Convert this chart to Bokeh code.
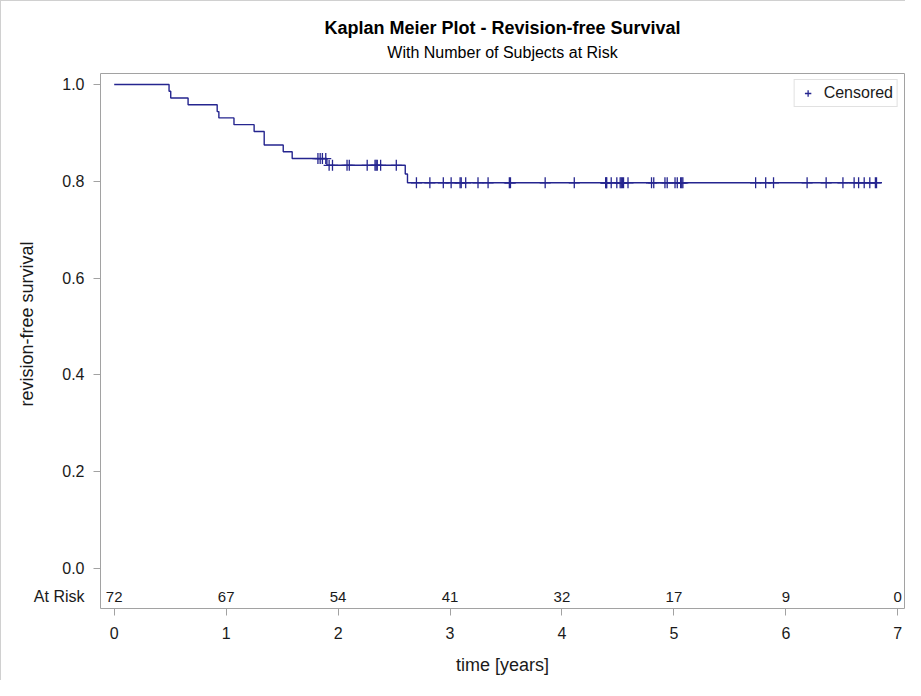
import numpy as np
from bokeh.plotting import figure
from bokeh.models import Range1d, Legend, LegendItem, FixedTicker, Title
from bokeh.embed import file_html
from bokeh.resources import INLINE

# ---- data ----
STEP_TIMES = [0.0, 0.49, 0.505, 0.66, 0.92, 0.935, 1.07, 1.25, 1.34, 1.51, 1.59, 1.90, 2.60, 2.62]
STEP_SURV = [1.0, 0.986, 0.972, 0.958, 0.944, 0.931, 0.917, 0.903, 0.875, 0.861, 0.847, 0.833, 0.815, 0.797]

CENSOR_TIMES = [1.82, 1.84, 1.86, 1.89, 1.92, 1.95,
                2.08, 2.10, 2.26, 2.33, 2.34, 2.35, 2.38, 2.52, 2.70, 2.82, 2.94,
                3.01, 3.09, 3.10, 3.14, 3.25, 3.34, 3.53, 3.54, 3.85,
                4.11, 4.39, 4.395, 4.40, 4.44, 4.49, 4.52, 4.53, 4.54, 4.55, 4.59,
                4.80, 4.82, 4.92, 4.94,
                5.01, 5.03, 5.06, 5.07, 5.08, 5.73, 5.82, 5.89,
                6.19, 6.36, 6.51, 6.61, 6.65, 6.70, 6.75, 6.80, 6.81]

AT_RISK_TIMES = [0, 1, 2, 3, 4, 5, 6, 7]
AT_RISK_COUNTS = [72, 67, 54, 41, 32, 17, 9, 0]
AT_RISK_LABEL = "At Risk"

X_TICKS = [0, 1, 2, 3, 4, 5, 6, 7]
Y_TICKS = [0.0, 0.2, 0.4, 0.6, 0.8, 1.0]
Y_TICK_LABELS = ["0.0", "0.2", "0.4", "0.6", "0.8", "1.0"]

TITLE = "Kaplan Meier Plot - Revision-free Survival"
SUBTITLE = "With Number of Subjects at Risk"
X_LABEL = "time [years]"
Y_LABEL = "revision-free survival"

# ---- styles ----
FONT = "Liberation Sans"
LINE_COLOR = "#25258f"
FRAME_COLOR = "#a2a2a2"
TEXT_COLOR = "#1a1a1a"
X_START, X_END = -0.1224, 7.060
Y_START, Y_END = -0.0826, 1.0227
AT_RISK_Y = -0.058

p = figure(width=905, height=680, output_backend="svg", toolbar_location=None,
           x_range=Range1d(X_START, X_END), y_range=Range1d(Y_START, Y_END),
           min_border_left=99, min_border_right=2, min_border_top=72, min_border_bottom=73)
p.styles = {"border-left": "1px solid #d0d0d0", "border-top": "1px solid #d0d0d0"}
p.grid.visible = False
p.outline_line_color = FRAME_COLOR
p.outline_line_width = 1
p.background_fill_color = "white"
p.border_fill_color = "white"

# titles: main title outermost, subtitle closest to the frame
p.title.text = TITLE
p.title.align = "center"
p.title.text_font = FONT
p.title.text_font_size = "18px"
p.title.text_font_style = "bold"
p.title.text_color = "black"
p.title.standoff = -17
p.add_layout(Title(text=SUBTITLE, align="center", text_font=FONT, text_font_size="16px",
                   text_font_style="normal", text_color="black", standoff=25), "above")

# axes
p.xaxis.ticker = FixedTicker(ticks=X_TICKS)
y_major = [AT_RISK_Y] + Y_TICKS
p.yaxis.ticker = FixedTicker(ticks=y_major, minor_ticks=Y_TICKS)
overrides = {AT_RISK_Y: AT_RISK_LABEL}
overrides.update(dict(zip(Y_TICKS, Y_TICK_LABELS)))
p.yaxis.major_label_overrides = overrides

for ax in (p.xaxis, p.yaxis):
    ax.axis_line_color = None
    ax.major_tick_line_color = FRAME_COLOR
    ax.minor_tick_line_color = None
    ax.major_label_text_font = FONT
    ax.major_label_text_font_size = "16px"
    ax.major_label_text_color = TEXT_COLOR
p.xaxis.major_tick_out = 7
p.xaxis.major_tick_in = 0
p.xaxis.major_label_standoff = 11
p.xaxis.axis_label = X_LABEL
p.xaxis.axis_label_text_font = FONT
p.xaxis.axis_label_text_font_size = "18px"
p.xaxis.axis_label_text_font_style = "normal"
p.xaxis.axis_label_text_color = TEXT_COLOR
p.xaxis.axis_label_standoff = 13

# y: major ticks invisible (they carry the labels incl. "At Risk"), minor ticks drawn
p.yaxis.major_tick_out = 0
p.yaxis.major_tick_in = 0
p.yaxis.minor_tick_line_color = FRAME_COLOR
p.yaxis.minor_tick_out = 7
p.yaxis.minor_tick_in = 0
p.yaxis.major_label_standoff = 9

p.add_layout(Title(text=Y_LABEL, align="left", offset=202, text_font=FONT,
                   text_font_size="18px", text_font_style="normal",
                   text_color=TEXT_COLOR, standoff=-12), "left")

# step curve
line_x = STEP_TIMES + [max(CENSOR_TIMES)]
line_y = STEP_SURV + [STEP_SURV[-1]]
p.step(x=line_x, y=line_y, mode="after", line_color=LINE_COLOR, line_width=1.4)

# censored marks
idx = np.searchsorted(np.array(STEP_TIMES), np.array(CENSOR_TIMES), side="right") - 1
censor_y = [STEP_SURV[i] for i in idx]
cr = p.scatter(x=CENSOR_TIMES, y=censor_y, marker="cross", size=11,
               line_color=LINE_COLOR, line_width=1.3)

legend = Legend(items=[LegendItem(label="Censored", renderers=[cr])], location="top_right")
legend.label_text_font = FONT
legend.label_text_font_size = "16px"
legend.label_text_color = TEXT_COLOR
legend.border_line_color = "#c4c4c4"
legend.border_line_width = 1
legend.padding = 4
legend.margin = 6
legend.glyph_width = 18
legend.glyph_height = 16
legend.label_standoff = 7
legend.label_height = 16
p.add_layout(legend)

# at-risk row
p.text(x=AT_RISK_TIMES, y=[AT_RISK_Y] * len(AT_RISK_TIMES),
       text=[str(c) for c in AT_RISK_COUNTS],
       text_align="center", text_baseline="middle",
       text_font_size="15px", text_color=TEXT_COLOR,
       text_font={"value": FONT})

open("out.html", "w").write(file_html(p, INLINE))
